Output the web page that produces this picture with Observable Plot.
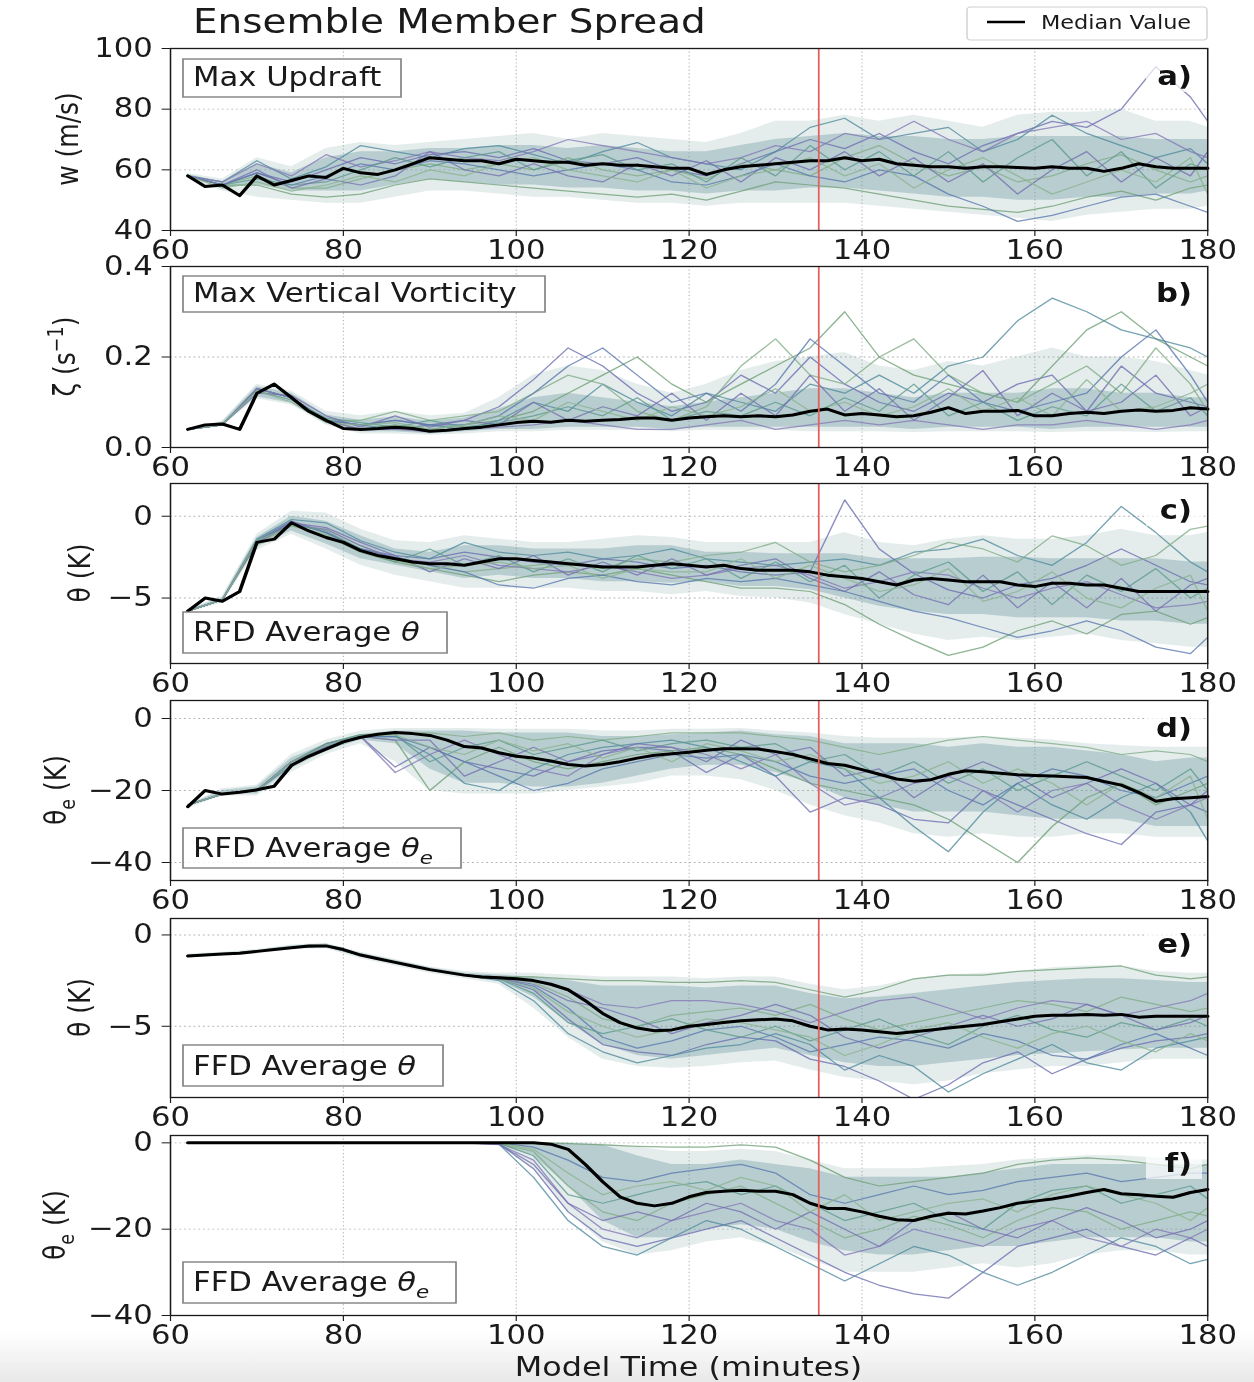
<!DOCTYPE html>
<html><head><meta charset="utf-8">
<script src="https://cdn.jsdelivr.net/npm/d3@7"></script>
<script src="https://cdn.jsdelivr.net/npm/@observablehq/plot@0.6"></script>
<style>
html,body{margin:0;padding:0;background:#fff;overflow:hidden;width:1254px;height:1382px;}
#wrap{position:relative;width:1063px;height:1382px;transform:scaleX(1.18);transform-origin:0 0;font-family:"DejaVu Sans",sans-serif;}
#wrap svg{position:absolute;left:0;}
#fade{position:absolute;left:0;top:1332px;width:1063px;height:50px;background:linear-gradient(to bottom,rgba(236,236,236,0),#e8e8e8);}
</style></head><body>
<div id="wrap"><div id="fade"></div></div>
<script>
// ---------------- data ----------------
const tFine = [62,64,66,68,70,72,74,76,78,80,82,84,86,88,90,92,94,96,98,100,102,104,106,108,110,112,114,116,118,120,122,124,126,128,130,132,134,136,138,140,142,144,146,148,150,152,154,156,158,160,162,164,166,168,170,172,174,176,178,180];
const tCoarse = [62,66,70,74,78,82,86,90,94,98,102,106,110,114,118,122,126,130,134,138,142,146,150,154,158,162,166,170,174,178,180];
const xTicks = [60,80,100,120,140,160,180];
const markerTime = [135];

// a) Max updraft
const medianA = [58,54.5,55,51.5,58,55,56.5,58,57.5,60.5,59,58.5,60,62,64,63.5,63,63,62,63.5,63,62.5,62.5,61.5,62,61.5,61.5,61,60.5,60.5,58.5,60,61,61.5,62,62.5,63,63,64,63,63.5,62,61.5,61,61,60.5,61,61,60.8,60.5,61,60.5,60.5,59.5,60.5,62,61,60.5,60.5,60.5];
const bandLoA = [57.5,54,55,53,53,53,55,57,56,55,55,54,54,53,53,52,53,53,54,54,53,52,51,51,50,50,51,51,52,52,53];
const bandHiA = [58.5,56,62,59,64,66,66,67,67,68,68,67,68,67,66,66,68,70,71,72,71,71,70,70,71,71,71,71,70,70,70];
const outerLoA = [57.2,53,51,50,49,49,51,53,53,52,51,51,50,49,49,48,49,49,49,49,48,47,46,45,44,43,45,46,47,47,48];
const outerHiA = [58.8,57,64,61,67,69,68,69,70,71,72,70,72,71,70,69,72,76,76,78,76,78,76,74,78,79,79,80,76,76,74];
const membersA = [
 [58,55,59,56,60,64,62,65,66,64,67,63,62,64,60,58,62,66,70,67,72,66,62,68,72,76,74,80,94,84,76],
 [58,55,55,52,51,52,55,57,56,55,54,53,52,51,52,50,53,56,55,54,52,50,48,47,46,48,51,53,50,54,55],
 [58,56,63,57,61,68,66,64,67,68,65,62,66,69,64,62,60,66,74,77,70,72,74,66,70,78,72,68,64,67,62],
 [58,55,58,54,54,57,60,62,60,62,60,64,60,58,60,57,62,60,58,64,68,62,58,61,56,58,62,65,60,56,58],
 [58,55,59,55,58,62,60,63,62,60,58,60,62,60,56,55,58,62,58,56,60,58,52,48,43,45,48,51,52,48,46],
 [58,56,62,58,65,61,63,66,64,63,66,70,68,66,64,62,64,68,66,72,70,76,70,66,72,74,76,70,72,66,64],
 [58,55,57,55,56,60,64,61,64,66,60,63,65,60,62,56,64,58,68,60,66,58,66,56,64,70,58,66,54,62,60],
 [58,55,60,54,57,55,58,66,60,58,62,58,56,62,58,63,56,64,60,66,58,64,56,62,52,60,66,56,64,58,66],
 [58,54,56,53,55,58,56,60,58,62,64,60,58,56,60,54,58,60,64,58,62,54,60,64,58,52,56,60,56,64,52]
];

// b) Max vertical vorticity
const medianB = [.040,.050,.052,.040,.120,.140,.110,.080,.060,.042,.040,.042,.045,.042,.036,.038,.042,.045,.050,.055,.058,.056,.060,.058,.060,.062,.065,.065,.060,.065,.068,.070,.068,.070,.068,.072,.080,.085,.072,.075,.072,.068,.070,.078,.088,.075,.080,.080,.082,.070,.070,.075,.078,.075,.080,.083,.080,.082,.088,.085];
const bandLoB = [.039,.049,.112,.098,.055,.035,.035,.030,.035,.040,.040,.045,.045,.045,.040,.045,.045,.045,.045,.045,.045,.040,.045,.045,.045,.040,.045,.045,.045,.045,.045];
const bandHiB = [.042,.056,.135,.120,.072,.060,.068,.058,.065,.085,.110,.120,.110,.100,.090,.100,.110,.120,.130,.130,.120,.110,.120,.120,.120,.130,.130,.120,.120,.110,.110];
const outerLoB = [.038,.048,.108,.094,.050,.030,.030,.027,.030,.035,.035,.038,.038,.038,.035,.038,.038,.038,.035,.035,.035,.033,.035,.035,.035,.033,.035,.035,.033,.035,.035];
const outerHiB = [.042,.058,.140,.125,.080,.070,.080,.070,.075,.110,.160,.180,.170,.140,.120,.140,.170,.190,.200,.210,.180,.170,.190,.180,.200,.220,.200,.200,.190,.170,.160];
const membersB = [
 [.040,.050,.130,.110,.060,.050,.060,.050,.060,.090,.150,.220,.180,.120,.080,.100,.160,.120,.200,.140,.100,.080,.120,.100,.140,.160,.080,.180,.120,.100,.090],
 [.040,.050,.130,.110,.060,.040,.050,.040,.050,.060,.080,.120,.160,.200,.140,.100,.140,.180,.220,.300,.200,.160,.140,.120,.100,.180,.260,.300,.240,.200,.180],
 [.040,.050,.130,.110,.060,.050,.040,.050,.040,.060,.100,.080,.140,.100,.070,.120,.100,.080,.140,.120,.160,.120,.180,.200,.280,.330,.300,.260,.240,.220,.200],
 [.040,.050,.130,.110,.060,.060,.080,.060,.070,.080,.120,.160,.140,.080,.060,.090,.180,.240,.160,.140,.200,.240,.160,.120,.100,.140,.180,.120,.220,.140,.080],
 [.040,.050,.130,.110,.060,.050,.060,.050,.050,.070,.120,.180,.220,.160,.100,.120,.080,.140,.240,.180,.120,.100,.160,.100,.080,.100,.120,.200,.260,.160,.100],
 [.040,.050,.130,.110,.060,.040,.040,.035,.040,.045,.050,.060,.050,.040,.040,.050,.060,.040,.050,.060,.050,.060,.050,.040,.050,.050,.060,.050,.040,.050,.060],
 [.040,.050,.125,.105,.065,.055,.045,.060,.045,.055,.070,.090,.070,.110,.060,.080,.070,.100,.070,.110,.080,.140,.070,.100,.060,.090,.070,.140,.080,.110,.070],
 [.040,.050,.120,.115,.070,.045,.070,.045,.060,.050,.100,.060,.090,.070,.120,.060,.120,.070,.160,.080,.130,.060,.110,.170,.070,.120,.080,.100,.160,.070,.090],
 [.040,.050,.125,.100,.055,.050,.055,.040,.050,.070,.060,.100,.080,.060,.090,.070,.090,.130,.080,.100,.070,.090,.130,.080,.110,.070,.150,.080,.090,.120,.140]
];

// c) RFD average theta
const medianC = [-5.8,-5.0,-5.2,-4.6,-1.6,-1.4,-0.4,-0.9,-1.3,-1.6,-2.1,-2.4,-2.6,-2.8,-2.9,-2.9,-3.0,-2.8,-2.6,-2.6,-2.7,-2.8,-2.9,-3.0,-3.1,-3.1,-3.1,-3.0,-2.9,-3.0,-3.1,-3.0,-3.2,-3.3,-3.3,-3.3,-3.4,-3.6,-3.7,-3.8,-4.0,-4.2,-3.9,-3.8,-3.9,-4.0,-4.0,-4.0,-4.2,-4.3,-4.1,-4.1,-4.2,-4.2,-4.4,-4.6,-4.6,-4.6,-4.6,-4.6];
const bandLoC = [-5.85,-5.2,-1.9,-0.9,-1.7,-2.6,-3.0,-3.4,-3.8,-3.6,-3.8,-3.8,-4.0,-4.0,-4.1,-4.0,-4.3,-4.3,-4.5,-5.0,-5.5,-5.8,-6.0,-6.0,-6.2,-6.2,-6.2,-6.4,-6.4,-6.6,-6.6];
const bandHiC = [-5.75,-5.0,-1.3,0.0,-0.3,-1.2,-2.0,-2.2,-1.8,-1.8,-2.0,-2.0,-2.0,-1.8,-1.8,-2.2,-2.2,-2.3,-2.3,-2.3,-2.6,-2.6,-2.6,-2.5,-2.5,-2.6,-2.6,-2.6,-2.6,-2.8,-2.8];
const outerLoC = [-5.9,-5.3,-2.1,-1.1,-2.0,-3.0,-3.6,-4.0,-4.4,-4.4,-4.4,-4.4,-4.6,-4.6,-4.8,-4.6,-4.9,-5.0,-5.3,-6.0,-6.6,-7.2,-7.6,-7.4,-7.6,-7.4,-7.2,-7.6,-7.8,-8.0,-8.0];
const outerHiC = [-5.7,-4.9,-1.1,0.3,0.2,-0.8,-1.5,-1.6,-1.2,-1.4,-1.6,-1.6,-1.4,-1.2,-1.3,-1.6,-1.6,-1.6,-1.6,-1.0,-1.6,-1.8,-1.4,-1.2,-1.4,-1.4,-1.2,-0.8,-1.2,-1.2,-1.0];
const membersC = [
 [-5.8,-5.1,-1.5,-0.3,-1.0,-2.0,-2.4,-2.6,-2.2,-2.5,-2.8,-3.0,-2.6,-2.8,-3.2,-3.0,-3.4,-3.6,-3.4,1.0,-2.0,-3.5,-4.5,-5.0,-4.2,-3.8,-3.0,-2.0,-3.0,-4.0,-4.2],
 [-5.8,-5.1,-1.6,-0.5,-1.2,-2.2,-2.8,-3.2,-3.6,-4.0,-3.6,-3.4,-3.6,-3.2,-3.6,-4.0,-4.4,-4.4,-4.6,-5.4,-6.6,-7.6,-8.5,-8.0,-7.0,-6.4,-7.2,-6.0,-5.8,-6.6,-6.2],
 [-5.8,-5.1,-1.4,-0.2,-0.4,-1.5,-2.2,-2.6,-1.6,-2.2,-2.4,-2.2,-2.6,-2.4,-2.0,-2.6,-2.8,-3.0,-2.8,-2.6,-3.0,-2.2,-2.0,-1.4,-2.4,-3.0,-1.6,0.6,-1.0,-2.8,-3.4],
 [-5.8,-5.1,-1.7,-0.6,-0.8,-1.8,-2.6,-3.0,-3.4,-3.2,-3.0,-2.8,-3.2,-2.6,-2.8,-2.4,-2.2,-1.6,-2.8,-3.4,-3.0,-2.4,-1.6,-2.0,-2.8,-1.2,-1.8,-3.0,-2.4,-0.8,-0.6],
 [-5.8,-5.1,-1.5,-0.4,-1.0,-2.0,-2.5,-3.0,-3.4,-4.2,-4.4,-3.8,-3.6,-4.0,-4.2,-3.8,-4.0,-3.8,-4.2,-4.6,-5.2,-5.8,-6.2,-6.8,-7.4,-7.0,-6.4,-7.0,-8.0,-8.4,-7.4],
 [-5.8,-5.1,-1.6,-0.5,-0.8,-1.8,-2.6,-2.8,-2.4,-3.0,-3.2,-3.4,-3.0,-3.4,-3.8,-3.6,-3.2,-3.0,-3.6,-4.4,-4.0,-3.4,-3.6,-4.4,-5.0,-4.4,-4.0,-4.8,-5.6,-5.4,-5.2],
 [-5.8,-5.1,-1.5,-0.5,-0.9,-2.0,-2.8,-2.0,-3.0,-2.4,-3.4,-2.6,-3.4,-2.4,-3.2,-2.6,-3.8,-2.8,-4.0,-3.0,-5.0,-3.6,-2.8,-4.6,-3.4,-5.4,-3.6,-4.6,-3.2,-5.0,-4.4],
 [-5.8,-5.1,-1.6,-0.4,-0.7,-1.6,-2.4,-3.4,-2.6,-3.2,-2.4,-3.6,-2.8,-3.6,-2.6,-3.6,-3.0,-2.6,-3.8,-4.6,-3.4,-4.8,-5.4,-3.6,-5.6,-4.0,-5.6,-3.8,-5.8,-4.2,-3.8],
 [-5.8,-5.1,-1.5,-0.6,-1.1,-2.2,-2.7,-3.2,-3.0,-2.8,-3.2,-3.0,-3.8,-3.2,-3.4,-3.4,-2.6,-3.8,-3.0,-3.8,-4.6,-4.2,-3.2,-5.2,-4.6,-3.4,-5.0,-5.6,-4.4,-3.6,-5.8]
];

// d) RFD average theta-e
const medianD = [-24.5,-20,-21,-20.5,-19.8,-18.8,-13,-10.5,-8.5,-6.5,-5.2,-4.4,-3.9,-4.2,-4.7,-6,-7.8,-8.2,-9.5,-10.5,-11,-11.8,-12.8,-13.2,-12.8,-12,-11,-10.2,-9.8,-9.4,-8.8,-8.4,-8.4,-8.5,-9.2,-10,-11.2,-12.5,-13,-14.2,-15.5,-16.8,-17.4,-17,-15.5,-14.5,-14.8,-15.2,-15.6,-15.8,-16,-16.2,-16.4,-17.5,-18.5,-20.5,-23,-22.3,-22,-21.7];
const bandLoD = [-24.6,-21,-21,-14,-9,-6,-7,-14,-18,-18,-19,-19,-18,-16,-14,-13,-13,-15,-18,-22,-24,-26,-26,-26,-27,-28,-28,-28,-30,-30,-30];
const bandHiD = [-24.2,-20,-19,-11,-7,-4.5,-3.5,-3.5,-3.5,-4,-4,-4,-5,-5,-4.5,-4,-3.5,-4.5,-5,-7,-7,-7,-8,-7,-8,-8,-9,-10,-12,-11,-11];
const outerLoD = [-25,-21.5,-21.5,-15,-10,-7,-12,-20,-21,-21,-21,-20,-19,-18,-16,-16,-17,-20,-24,-27,-29,-32,-33,-32,-33,-33,-32,-32,-33,-33,-33];
const outerHiD = [-24,-19.5,-18.5,-10,-6,-3.5,-2.8,-2.8,-2.8,-3,-3,-3,-3.5,-3.5,-3,-3,-2.8,-3.5,-4,-5,-5.5,-5.5,-5.5,-5,-5.5,-6,-7,-7.5,-8,-8,-8];
const membersD = [
 [-24,-21,-20,-12,-7.5,-5,-13.5,-8,-12,-14,-16,-12,-9,-8,-9,-15,-10,-16,-26,-22,-24,-28,-29,-20,-24,-28,-32,-35,-26,-24,-26],
 [-24,-21,-20,-12,-8,-5,-6,-20,-12,-8,-12,-14,-12,-10,-9,-8,-10,-14,-18,-20,-22,-24,-28,-34,-40,-30,-22,-18,-24,-20,-18],
 [-24,-21,-20,-13,-8,-5,-5,-10,-18,-20,-14,-10,-8,-7,-6,-8,-12,-16,-12,-14,-22,-30,-37,-26,-18,-24,-28,-22,-18,-26,-34],
 [-24,-21,-20,-12,-7,-4.5,-4,-4,-5,-4,-6,-5,-6,-5,-4,-4,-4,-5,-6,-8,-10,-8,-6,-5,-6,-7,-8,-10,-9,-10,-12],
 [-24,-21,-20,-12,-8,-5,-5,-8,-12,-16,-20,-18,-14,-12,-10,-11,-10,-12,-16,-18,-16,-14,-20,-24,-18,-14,-16,-20,-22,-18,-16],
 [-24,-21,-20,-12,-7,-5,-15,-10,-6,-10,-14,-16,-10,-8,-8,-10,-14,-10,-18,-24,-22,-18,-16,-20,-26,-20,-18,-24,-28,-24,-22],
 [-24,-21,-20,-12,-7,-4.5,-4.5,-12,-8,-6,-10,-8,-6,-9,-7,-6,-8,-7,-12,-10,-16,-12,-18,-14,-20,-16,-12,-16,-20,-14,-20],
 [-24,-21,-20,-12,-8,-5,-6,-6,-16,-12,-8,-12,-10,-7,-8,-12,-6,-10,-8,-16,-14,-22,-16,-12,-16,-22,-18,-14,-18,-24,-20],
 [-24,-21,-20,-12,-7.5,-5,-4.5,-8,-10,-6,-9,-7,-11,-8,-12,-7,-9,-12,-10,-14,-18,-16,-12,-18,-14,-18,-24,-18,-22,-16,-28]
];

// e) FFD average theta
const medianE = [-1.15,-1.1,-1.05,-1.0,-0.9,-0.8,-0.7,-0.6,-0.6,-0.8,-1.1,-1.3,-1.5,-1.7,-1.9,-2.05,-2.2,-2.3,-2.35,-2.4,-2.5,-2.7,-3.0,-3.6,-4.3,-4.8,-5.1,-5.25,-5.2,-5.0,-4.9,-4.8,-4.7,-4.65,-4.6,-4.7,-5.0,-5.2,-5.15,-5.2,-5.3,-5.4,-5.3,-5.2,-5.1,-5.0,-4.9,-4.75,-4.6,-4.45,-4.4,-4.4,-4.35,-4.4,-4.35,-4.5,-4.45,-4.45,-4.45,-4.45];
const bandLoE = [-1.2,-1.1,-1.0,-0.75,-0.7,-1.2,-1.6,-2.0,-2.3,-2.5,-3.4,-4.8,-6.0,-6.6,-6.8,-6.6,-6.4,-6.2,-6.6,-7.0,-7.2,-7.2,-7.0,-6.8,-6.6,-6.5,-6.4,-6.3,-6.2,-6.2,-6.2];
const bandHiE = [-1.1,-1.0,-0.85,-0.6,-0.5,-1.0,-1.4,-1.8,-2.1,-2.2,-2.3,-2.5,-2.8,-2.8,-2.8,-2.9,-2.8,-2.8,-3.2,-3.5,-3.4,-3.2,-3.0,-2.8,-2.6,-2.5,-2.4,-2.4,-2.5,-2.6,-2.6];
const outerLoE = [-1.25,-1.15,-1.05,-0.8,-0.75,-1.3,-1.7,-2.1,-2.4,-2.7,-4.0,-5.6,-6.8,-7.2,-7.3,-7.2,-7.0,-6.9,-7.4,-7.8,-8.0,-8.2,-8.0,-7.6,-7.4,-7.2,-7.2,-7.0,-6.8,-6.8,-6.8];
const outerHiE = [-1.05,-0.95,-0.8,-0.55,-0.45,-0.95,-1.35,-1.75,-2.0,-2.1,-2.1,-2.2,-2.3,-2.3,-2.3,-2.4,-2.3,-2.3,-2.7,-3.0,-2.8,-2.4,-2.2,-2.1,-2.0,-1.8,-1.7,-1.7,-2.0,-2.1,-2.1];
const membersE = [
 [-1.15,-1.05,-0.9,-0.7,-0.6,-1.1,-1.5,-1.9,-2.2,-2.4,-3.0,-4.6,-6.0,-6.4,-6.6,-6.0,-5.6,-5.8,-6.8,-7.2,-8.0,-9.0,-8.2,-7.0,-6.4,-7.6,-6.8,-6.2,-5.8,-5.6,-5.4],
 [-1.15,-1.05,-0.9,-0.7,-0.6,-1.1,-1.5,-1.9,-2.2,-2.3,-2.3,-2.4,-2.5,-2.5,-2.6,-2.6,-2.5,-2.6,-3.0,-3.4,-3.0,-2.4,-2.2,-2.2,-2.0,-1.9,-1.8,-1.7,-2.2,-2.4,-2.3],
 [-1.15,-1.05,-0.9,-0.7,-0.6,-1.1,-1.5,-1.9,-2.2,-2.5,-3.6,-5.4,-6.4,-7.0,-6.6,-6.2,-6.0,-5.4,-6.0,-7.4,-6.6,-7.2,-8.6,-7.6,-6.8,-6.0,-7.0,-7.4,-6.2,-5.8,-5.6],
 [-1.15,-1.05,-0.9,-0.7,-0.6,-1.1,-1.5,-1.9,-2.2,-2.4,-2.6,-3.4,-4.6,-5.0,-4.4,-4.2,-4.0,-4.4,-3.8,-4.6,-5.2,-4.8,-4.4,-4.0,-3.6,-3.8,-4.2,-3.4,-3.8,-4.2,-4.0],
 [-1.15,-1.05,-0.9,-0.7,-0.6,-1.1,-1.5,-1.9,-2.2,-2.4,-2.8,-4.0,-5.6,-6.2,-5.8,-5.2,-5.0,-5.6,-6.4,-6.0,-5.6,-5.8,-6.2,-5.4,-5.8,-6.6,-6.8,-6.0,-5.4,-6.2,-6.6],
 [-1.15,-1.05,-0.9,-0.7,-0.6,-1.1,-1.5,-1.9,-2.2,-2.3,-2.5,-3.0,-3.8,-4.0,-3.6,-3.6,-3.8,-4.2,-4.8,-4.2,-3.6,-3.4,-4.0,-4.6,-4.0,-3.6,-3.8,-4.4,-4.0,-3.6,-3.2],
 [-1.15,-1.05,-0.9,-0.7,-0.6,-1.1,-1.5,-1.9,-2.2,-2.4,-3.2,-4.8,-5.4,-5.0,-4.6,-5.2,-5.6,-5.0,-5.8,-5.2,-4.6,-5.4,-6.0,-5.0,-4.4,-5.2,-5.6,-4.8,-5.2,-4.6,-5.0],
 [-1.15,-1.05,-0.9,-0.7,-0.6,-1.1,-1.5,-1.9,-2.2,-2.4,-2.7,-3.6,-4.0,-4.6,-5.4,-4.8,-4.4,-3.8,-4.4,-5.6,-6.2,-5.6,-5.0,-4.4,-5.0,-4.6,-3.8,-4.4,-5.2,-4.8,-4.4],
 [-1.15,-1.05,-0.9,-0.7,-0.6,-1.1,-1.5,-1.9,-2.2,-2.4,-2.9,-4.2,-5.0,-5.6,-5.2,-4.6,-4.8,-5.2,-5.6,-6.6,-6.0,-5.2,-4.8,-5.6,-6.2,-5.4,-5.0,-5.8,-6.4,-5.4,-5.8]
];

// f) FFD average theta-e
const medianF = [0,0,0,0,0,0,0,0,0,0,0,0,0,0,0,0,0,0,0,0,0,-0.3,-1.5,-5,-9,-12.5,-14,-14.6,-14,-12.5,-11.5,-11.2,-11,-11.2,-11.2,-12,-14,-15.2,-15.2,-16,-17,-17.8,-18,-17,-16.3,-16.5,-15.8,-15,-14,-13.5,-13,-12.3,-11.5,-10.8,-11.8,-12,-12.4,-12.6,-11.5,-10.8];
const bandLoF = [-0.3,-0.3,-0.3,-0.3,-0.3,-0.3,-0.3,-0.3,-0.3,-0.4,-3,-10,-18,-22,-22,-20,-19,-20,-23,-25,-26,-26,-25,-24,-24,-23,-22,-22,-22,-23,-23];
const bandHiF = [0,0,0,0,0,0,0,0,0,0,0,-0.1,-0.5,-3,-5,-5,-4,-5,-6,-8,-8,-8,-8,-7,-6,-5,-5,-5,-5,-5,-5];
const outerLoF = [-0.4,-0.4,-0.4,-0.4,-0.4,-0.4,-0.4,-0.4,-0.4,-0.6,-6,-16,-23,-26,-25,-23,-22,-24,-27,-30,-30,-30,-29,-28,-29,-28,-26,-25,-25,-26,-26];
const outerHiF = [0.1,0.1,0.1,0.1,0.1,0.1,0.1,0.1,0.1,0.1,0.1,0,-0.2,-1,-2,-2,-1.5,-2,-4,-6,-6,-6,-5.5,-5,-4,-3.5,-3,-3,-3.5,-4,-4];
const membersF = [
 [0,0,0,0,0,0,0,0,0,-0.2,-6,-16,-22,-24,-22,-20,-18,-22,-26,-30,-33,-35,-36,-30,-24,-22,-20,-24,-26,-22,-24],
 [0,0,0,0,0,0,0,0,0,0,0,-0.2,-0.5,-0.8,-1,-1,-0.5,-1,-4,-8,-10,-9,-8,-7,-5,-4,-3.5,-4,-5,-6,-5],
 [0,0,0,0,0,0,0,0,0,-0.3,-8,-18,-24,-26,-22,-18,-20,-24,-28,-32,-28,-24,-26,-30,-33,-30,-26,-22,-24,-28,-27],
 [0,0,0,0,0,0,0,0,0,-0.2,-2,-10,-16,-18,-14,-12,-10,-14,-18,-22,-20,-17,-19,-22,-18,-15,-16,-20,-18,-16,-17],
 [0,0,0,0,0,0,0,0,0,0,-1,-4,-8,-9,-7,-6,-5,-7,-12,-14,-12,-10,-12,-11,-9,-8,-7,-9,-8,-7,-7],
 [0,0,0,0,0,0,0,0,0,-0.4,-4,-14,-20,-22,-18,-16,-14,-18,-20,-26,-24,-20,-22,-24,-20,-18,-22,-24,-20,-22,-20],
 [0,0,0,0,0,0,0,0,0,-0.1,-3,-12,-14,-12,-10,-9,-12,-10,-14,-18,-16,-14,-18,-20,-14,-11,-10,-14,-12,-10,-13],
 [0,0,0,0,0,0,0,0,0,-0.3,-5,-14,-18,-16,-18,-14,-16,-20,-16,-20,-24,-18,-16,-20,-22,-18,-15,-18,-22,-20,-18],
 [0,0,0,0,0,0,0,0,0,0,-1.5,-7,-12,-10,-9,-11,-8,-10,-16,-12,-18,-16,-14,-13,-16,-12,-10,-12,-14,-18,-15]
];

// ---------------- layout ----------------
const SX = 1.18;                 // horizontal stretch of the reference
const W0 = 1063, ML = 144, MR = 40, MT = 14, MB = 46;
const u = x => x / SX;           // actual px -> layout units (horizontal)
const PAL = ["#6b6db0","#6fa077","#4f8b9c","#82ad86","#5a78ad","#8479b6","#5c9a8c","#7470b0","#8ab48e"];
const FS = 26;

const panels = [
 {top:48,  h:182, domain:[40,100],  ticks:[40,60,80,100], fmt:d=>String(d), median:medianA, lo:bandLoA, hi:bandHiA, olo:outerLoA, ohi:outerHiA, members:membersA,
  ylab:[{s:"w (m/s)"}], ylabX:68, box:[183,401,59,97,86], boxText:[{s:"Max Updraft"}], letter:"a)", letterY:76},
 {top:266, h:181, domain:[0,0.4],   ticks:[0,0.2,0.4], fmt:d=>d.toFixed(1), median:medianB, lo:bandLoB, hi:bandHiB, olo:outerLoB, ohi:outerHiB, members:membersB,
  ylab:[{s:"ζ (s"},{s:"−1",sup:true},{s:")"}], ylabX:65, box:[183,545,276,312,302], boxText:[{s:"Max Vertical Vorticity"}], letter:"b)", letterY:293},
 {top:483, h:180, domain:[-9,2],    ticks:[-5,0], fmt:null, median:medianC, lo:bandLoC, hi:bandHiC, olo:outerLoC, ohi:outerHiC, members:membersC,
  ylab:[{s:"θ (K)"}], ylabX:80, box:[183,447,612,653,641], boxText:[{s:"RFD Average "},{s:"θ",it:true}], letter:"c)", letterY:510},
 {top:700, h:180, domain:[-45,5],   ticks:[-40,-20,0], fmt:null, median:medianD, lo:bandLoD, hi:bandHiD, olo:outerLoD, ohi:outerHiD, members:membersD,
  ylab:[{s:"θ"},{s:"e",sub:true},{s:" (K)"}], ylabX:56, box:[183,461,828,868,857], boxText:[{s:"RFD Average "},{s:"θ",it:true},{s:"e",it:true,sub:true}], letter:"d)", letterY:728},
 {top:918, h:179, domain:[-8.9,0.9],ticks:[-5,0], fmt:null, median:medianE, lo:bandLoE, hi:bandHiE, olo:outerLoE, ohi:outerHiE, members:membersE,
  ylab:[{s:"θ (K)"}], ylabX:80, box:[183,443,1045,1086,1075], boxText:[{s:"FFD Average "},{s:"θ",it:true}], letter:"e)", letterY:944},
 {top:1135,h:180, domain:[-40,1.7], ticks:[-40,-20,0], fmt:null, median:medianF, lo:bandLoF, hi:bandHiF, olo:outerLoF, ohi:outerHiF, members:membersF,
  ylab:[{s:"θ"},{s:"e",sub:true},{s:" (K)"}], ylabX:55, box:[183,456,1262,1303,1291], boxText:[{s:"FFD Average "},{s:"θ",it:true},{s:"e",it:true,sub:true}], letter:"f)", letterY:1163}
];

function rich(textSel, parts, size) {
  let shift = 0;
  parts.forEach(p => {
    const t = textSel.append("tspan").text(p.s);
    const want = p.sub ? size * 0.28 : p.sup ? -size * 0.42 : 0;
    if (want - shift !== 0) t.attr("dy", want - shift);
    shift = want;
    if (p.sub || p.sup) t.attr("font-size", size * 0.7);
    if (p.it) t.attr("font-style", "italic");
  });
}

const wrap = document.getElementById("wrap");

panels.forEach(p => {
  const band = tCoarse.map((t, i) => ({t, lo: p.lo[i], hi: p.hi[i], olo: p.olo[i], ohi: p.ohi[i]}));
  const med = tFine.map((t, i) => ({t, v: p.median[i]}));
  const H = MT + p.h + MB;
  const marks = [
    Plot.gridX(xTicks, {stroke:"#b0b0b0", strokeOpacity:1, strokeWidth:0.9, strokeDasharray:"1.2,2.4"}),
    Plot.gridY(p.ticks, {stroke:"#b0b0b0", strokeOpacity:1, strokeWidth:0.9, strokeDasharray:"1.5,2.5"}),
    Plot.areaY(band, {x:"t", y1:"olo", y2:"ohi", fill:"#86aaa8", fillOpacity:0.22, clip:true}),
    Plot.areaY(band, {x:"t", y1:"lo", y2:"hi", fill:"#5f8f98", fillOpacity:0.33, clip:true}),
    ...p.members.map((arr, k) => Plot.line(arr, {x:(d, i) => tCoarse[i], y:d => d, stroke:PAL[k], strokeWidth:1.25, strokeOpacity:0.78, clip:true})),
    Plot.line(med, {x:"t", y:"v", stroke:"#000", strokeWidth:3, strokeLinejoin:"round"}),
    Plot.ruleX(markerTime, {stroke:"#e4605e", strokeWidth:1.5}),
    Plot.frame({stroke:"#1a1a1a", strokeWidth:1.3}),
    Plot.axisX(xTicks, {tickSize:6, tickPadding:4, label:null, stroke:"#1a1a1a"}),
    Plot.axisY(p.ticks, {tickSize:7, tickPadding:8, label:null, stroke:"#1a1a1a", ...(p.fmt ? {tickFormat:p.fmt} : {})})
  ];
  const svg = Plot.plot({
    width: W0, height: H, marginTop: MT, marginBottom: MB, marginLeft: ML, marginRight: MR,
    style: {background:"transparent", fontFamily:"DejaVu Sans", fontSize:FS + "px", color:"#1a1a1a", overflow:"visible"},
    x: {domain:[60,180]},
    y: {domain:p.domain},
    marks
  });
  const off = p.top - MT;
  svg.style.top = off + "px";
  wrap.appendChild(svg);
  const g = d3.select(svg).append("g");
  // y label
  const yl = g.append("text")
    .attr("transform", `translate(${u(p.ylabX)},${MT + p.h / 2}) rotate(-90)`)
    .attr("text-anchor", "middle").attr("dy", "0.35em")
    .attr("font-size", 25).attr("fill", "#1a1a1a");
  rich(yl, p.ylab, 25);
  // label box
  const [bx1, bx2, by1, by2, bb] = p.box;
  g.append("rect").attr("x", u(bx1)).attr("y", by1 - off).attr("width", u(bx2 - bx1)).attr("height", by2 - by1)
    .attr("fill", "#fff").attr("fill-opacity", 0.85).attr("stroke", "#808080").attr("stroke-width", 1.4);
  const bt = g.append("text").attr("x", u(bx1 + 10)).attr("y", bb - off).attr("text-anchor", "start")
    .attr("font-size", FS).attr("fill", "#1a1a1a");
  rich(bt, p.boxText, FS);
  // panel letter
  g.append("rect").attr("x", u(1146)).attr("y", p.letterY - 16 - off).attr("width", u(56)).attr("height", 32)
    .attr("fill", "#fff").attr("fill-opacity", 0.7);
  g.append("text").attr("x", u(1192)).attr("y", p.letterY + 9 - off).attr("text-anchor", "end")
    .attr("font-size", FS).attr("font-weight", "bold").attr("fill", "#111").text(p.letter);
});

// overlay: title, legend, x label
const ov = d3.select(wrap).append("svg").attr("width", W0).attr("height", 1382).style("top", "0px")
  .style("font-family", "DejaVu Sans");
ov.append("text").attr("x", u(193)).attr("y", 33).attr("font-size", 33).attr("fill", "#1a1a1a").text("Ensemble Member Spread");
ov.append("rect").attr("x", u(967)).attr("y", 7).attr("width", u(240)).attr("height", 33).attr("rx", 3)
  .attr("fill", "#fff").attr("stroke", "#d0d0d0").attr("stroke-width", 1.2);
ov.append("line").attr("x1", u(987)).attr("x2", u(1025)).attr("y1", 22).attr("y2", 22).attr("stroke", "#000").attr("stroke-width", 2.5);
ov.append("text").attr("x", u(1041)).attr("y", 29).attr("font-size", 19).attr("fill", "#1a1a1a").text("Median Value");
ov.append("text").attr("x", u(688.5)).attr("y", 1376).attr("text-anchor", "middle").attr("font-size", 27).attr("fill", "#1a1a1a").text("Model Time (minutes)");
</script>
</body></html>
